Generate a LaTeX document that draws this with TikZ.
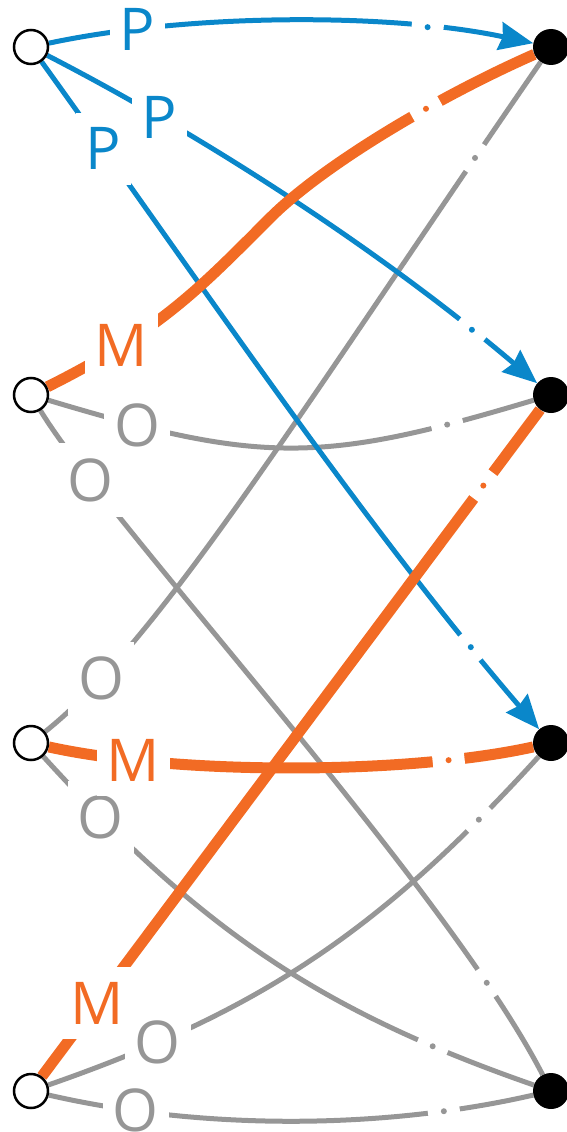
\documentclass[tikz,border=0pt]{standalone}
\usepackage{fontspec}
\newfontfamily\lblfont{Open Sans}
\usepackage{xcolor}
\usepackage{tikz}
\usetikzlibrary{
  arrows.meta,
  positioning,
  backgrounds
}
\definecolor{pblue}{HTML}{0A87CA}
\definecolor{morange}{HTML}{F26B24}
\definecolor{ogray}{HTML}{969696}

\begin{document}
\begin{tikzpicture}[
  x=1pt, y=-1pt,
  src/.style={circle, draw=black, line width=2.5pt, fill=white, minimum size=34pt, inner sep=0pt},
  dst/.style={circle, fill=black, minimum size=36pt, inner sep=0pt},
  pedge/.style={draw=pblue, line width=5pt, -{Stealth[length=34pt, width=28pt, inset=3pt]}},
  medge/.style={draw=morange, line width=11pt},
  oedge/.style={draw=ogray, line width=5pt},
  lbl/.style={font=\lblfont\fontsize{59}{59}\selectfont, fill=white, inner xsep=10pt, inner ysep=15pt},
  gapbox/.style={sloped, fill=white, inner sep=0pt, minimum width=32pt, minimum height=15pt},
  gapdot/.style={circle, inner sep=0pt, minimum size=6pt},
]
  \useasboundingbox (0,0) rectangle (567,1132);

  % Sources
  \node[src] (L1) at (31,47) {};
  \node[src] (L2) at (31,395) {};
  \node[src] (L3) at (31,743) {};
  \node[src] (L4) at (31,1091) {};

  % Targets
  \node[dst] (R1) at (551,47) {};
  \node[dst] (R2) at (551,395) {};
  \node[dst] (R3) at (551,743) {};
  \node[dst] (R4) at (551,1091) {};

  \begin{scope}[on background layer]
    % O edges
    \draw[oedge] (L2) .. controls (261,464) and (321,464) .. (R2)
      node[pos=.155, lbl, text=ogray] {O}
      node[pos=.85, gapbox] {} node[pos=.85, gapdot, fill=ogray] {};
    \draw[oedge] (L2) .. controls (110,525) and (445,885) .. (R4)
      node[pos=.155, lbl, text=ogray] {O}
      node[pos=.855, gapbox] {} node[pos=.855, gapdot, fill=ogray] {};
    \draw[oedge] (L3) .. controls (161,639) and (301,410) .. (R1)
      node[pos=.155, lbl, text=ogray] {O}
      node[pos=.905, gapbox] {} node[pos=.905, gapdot, fill=ogray] {};
    \draw[oedge] (L3) .. controls (201,930) and (321,1011) .. (R4)
      node[pos=.125, lbl, text=ogray] {O}
      node[pos=.83, gapbox] {} node[pos=.83, gapdot, fill=ogray] {};
    \draw[oedge] (L4) .. controls (261,1011) and (381,930) .. (R3)
      node[pos=.185, lbl, text=ogray] {O}
      node[pos=.87, gapbox] {} node[pos=.87, gapdot, fill=ogray] {};
    \draw[oedge] (L4) .. controls (201,1130) and (381,1130) .. (R4)
      node[pos=.185, lbl, text=ogray] {O}
      node[pos=.81, gapbox] {} node[pos=.81, gapdot, fill=ogray] {};

    % P edges
    \draw[pedge] (L1) .. controls (190,13) and (392,13) .. (R1)
      node[pos=.195, lbl, text=pblue] {P}
      node[pos=.77, gapbox] {} node[pos=.77, gapdot, fill=pblue] {};
    \draw[pedge] (L1) .. controls (217,143) and (391,259) .. (R2)
      node[pos=.22, lbl, text=pblue] {P}
      node[pos=.855, gapbox] {} node[pos=.855, gapdot, fill=pblue] {};
    \draw[pedge] (L1) .. controls (200,282) and (362,523) .. (R3)
      node[pos=.13, lbl, text=pblue] {P}
      node[pos=.87, gapbox] {} node[pos=.87, gapdot, fill=pblue] {};

    % M edges
    \draw[medge] (L2) .. controls (161,330) and (200,288) .. (270,218)
      node[pos=.255, lbl, text=morange] {M}
      .. controls (320,168) and (431,100) .. (R1)
      node[pos=.65, gapbox] {} node[pos=.65, gapdot, fill=morange] {};
    \draw[medge] (L3) .. controls (176,775) and (406,775) .. (R3)
      node[pos=.195, lbl, text=morange] {M}
      node[pos=.805, gapbox] {} node[pos=.805, gapdot, fill=morange] {};
    \draw[medge] (L4) -- (R2)
      node[pos=.11, lbl, text=morange] {M}
      node[pos=.886, gapbox] {} node[pos=.886, gapdot, fill=morange] {};
  \end{scope}
\end{tikzpicture}
\end{document}
